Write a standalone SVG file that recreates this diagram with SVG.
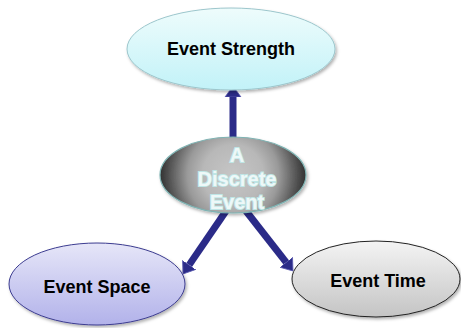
<svg xmlns="http://www.w3.org/2000/svg" width="461" height="328" viewBox="0 0 461 328">
<defs>
<linearGradient id="gTop" x1="0" y1="0" x2="0" y2="1"><stop offset="0" stop-color="#eefcfc"/><stop offset="1" stop-color="#c2f2f8"/></linearGradient>
<linearGradient id="gSpace" x1="0" y1="0" x2="0" y2="1"><stop offset="0" stop-color="#e6e6f8"/><stop offset="1" stop-color="#b2b2ea"/></linearGradient>
<linearGradient id="gTime" x1="0" y1="0" x2="0" y2="1"><stop offset="0" stop-color="#f4f4f4"/><stop offset="1" stop-color="#c4c4c4"/></linearGradient>
<radialGradient id="gCenter" gradientUnits="userSpaceOnUse" cx="233" cy="175" r="76"><stop offset="0" stop-color="#c6c6c6"/><stop offset="0.4" stop-color="#b8b8b8"/><stop offset="0.6" stop-color="#9a9a9a"/><stop offset="0.8" stop-color="#5e5e5e"/><stop offset="1" stop-color="#262626"/></radialGradient>
<filter id="sh" x="-10%" y="-10%" width="125%" height="130%"><feDropShadow dx="1.5" dy="2" stdDeviation="1.5" flood-color="#000" flood-opacity="0.3"/></filter>
<marker id="ah" markerUnits="userSpaceOnUse" markerWidth="18" markerHeight="18" refX="0" refY="9" orient="auto"><path d="M0,1 L11,9 L0,17 Z" fill="#2b2b88" stroke="#5a5ab0" stroke-width="0.8"/></marker>
<style>
.lbl{font-family:"Liberation Sans",Arial,sans-serif;font-weight:bold;font-size:18px;fill:#000;text-anchor:middle}
.ctr{font-family:"Liberation Sans",Arial,sans-serif;font-weight:bold;font-size:20px;fill:#eef8f8;stroke:#bfe6e6;stroke-width:1.8;paint-order:stroke;text-anchor:middle}
.arr{stroke:#2b2b88;stroke-width:7;fill:none}
</style>
</defs>
<g id="connectors">
<line class="arr" x1="233" y1="138" x2="233" y2="97" marker-end="url(#ah)"/>
<line class="arr" x1="226" y1="211" x2="189.2" y2="264.9" marker-end="url(#ah)"/>
<line class="arr" x1="246" y1="211" x2="286.2" y2="262.3" marker-end="url(#ah)"/>
</g>
<g id="event-strength">
<ellipse cx="231" cy="49" rx="104" ry="41" fill="url(#gTop)" stroke="#9cc6cc" stroke-width="1" filter="url(#sh)"/>
<text class="lbl" x="231" y="55">Event Strength</text>
</g>
<g id="discrete-event">
<ellipse cx="233" cy="175" rx="73" ry="38" fill="url(#gCenter)" stroke="#7fb3b3" stroke-width="1.2" filter="url(#sh)"/>
<text class="ctr" x="237" y="162">A</text>
<text class="ctr" x="237" y="186">Discrete</text>
<text class="ctr" x="237" y="209">Event</text>
</g>
<g id="event-space">
<ellipse cx="97" cy="284" rx="88" ry="41" fill="url(#gSpace)" stroke="#3c3c90" stroke-width="1" filter="url(#sh)"/>
<text class="lbl" x="97" y="293">Event Space</text>
</g>
<g id="event-time">
<ellipse cx="376" cy="279" rx="84" ry="38" fill="url(#gTime)" stroke="#222" stroke-width="1" filter="url(#sh)"/>
<text class="lbl" x="378" y="287">Event Time</text>
</g>
</svg>
